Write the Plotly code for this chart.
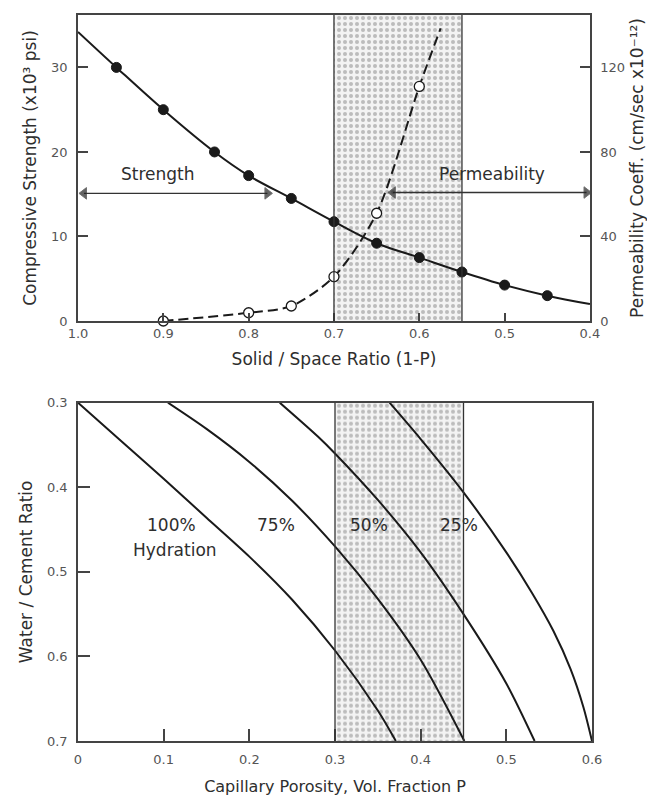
import plotly.graph_objects as go

# ---------------- Top panel data ----------------
strength_x = [0.955, 0.90, 0.84, 0.80, 0.75, 0.70, 0.65, 0.60, 0.55, 0.50, 0.45]
strength_y = [30.0, 25.0, 20.0, 17.2, 14.5, 11.75, 9.2, 7.5, 5.8, 4.25, 3.0]
strength_curve_x = [1.0, 0.955, 0.90, 0.84, 0.80, 0.75, 0.70, 0.65, 0.60, 0.55, 0.50, 0.45, 0.40]
strength_curve_y = [34.2, 30.0, 25.0, 20.0, 17.2, 14.5, 11.75, 9.2, 7.5, 5.8, 4.25, 3.0, 2.0]

perm_x = [0.90, 0.80, 0.75, 0.70, 0.65, 0.60]
perm_y = [0, 3.9, 7.1, 21, 51, 111]
perm_curve_x = [0.90, 0.80, 0.75, 0.70, 0.65, 0.60, 0.575]
perm_curve_y = [0, 3.9, 7.1, 21, 51, 111, 138.5]

top_x_ticks = [1.0, 0.9, 0.8, 0.7, 0.6, 0.5, 0.4]
top_x_ticktext = ["1.0", "0.9", "0.8", "0.7", "0.6", "0.5", "0.4"]
strength_ticks = [0, 10, 20, 30]
perm_ticks = [0, 40, 80, 120]
strength_range = [0, 36.2]
perm_range = [0, 144.8]
shade_top = [0.70, 0.55]

# arrows (solid/space ratio extents, strength-axis level)
strength_arrow_x = [0.993, 0.778]
strength_arrow_y = [15.1, 15.1]
perm_arrow_x = [0.631, 0.404]
perm_arrow_y = [15.2, 15.2]

# ---------------- Bottom panel data ----------------
p100 = [0.0, 0.05, 0.10, 0.15, 0.20, 0.25, 0.30, 0.35, 0.371]
w100 = [0.30, 0.345, 0.390, 0.436, 0.482, 0.533, 0.593, 0.664, 0.70]
p75 = [0.105, 0.15, 0.20, 0.25, 0.30, 0.35, 0.40, 0.451]
w75 = [0.30, 0.331, 0.370, 0.416, 0.470, 0.532, 0.604, 0.70]
p50 = [0.2355, 0.28, 0.30, 0.35, 0.40, 0.45, 0.50, 0.533]
w50 = [0.30, 0.340, 0.360, 0.415, 0.477, 0.550, 0.632, 0.70]
p25 = [0.3637, 0.40, 0.45, 0.50, 0.53, 0.555, 0.575, 0.59, 0.60]
w25 = [0.30, 0.343, 0.406, 0.477, 0.525, 0.570, 0.615, 0.660, 0.70]
hyd_labels = ["100%", "75%", "50%", "25%"]
hyd_label_x = [0.109, 0.2316, 0.340, 0.4453]
hyd_label_y = [0.445, 0.445, 0.445, 0.445]

bot_x_ticks = [0, 0.1, 0.2, 0.3, 0.4, 0.5, 0.6]
bot_x_ticktext = ["0", "0.1", "0.2", "0.3", "0.4", "0.5", "0.6"]
bot_y_ticks = [0.3, 0.4, 0.5, 0.6, 0.7]
bot_y_ticktext = ["0.3", "0.4", "0.5", "0.6", "0.7"]
shade_bottom = [0.30, 0.45]

FONT = "DejaVu Sans"
INK = "#1a1a1a"
TXT = "#2e2e2e"
TICKC = "#555555"

fig = go.Figure()

pattern = dict(shape=".", size=6, solidity=0.35, fgcolor="#bcbcbc", bgcolor="#f3f3f3", fillmode="replace")

# shaded band top
fig.add_trace(go.Scatter(
    x=[shade_top[0], shade_top[0], shade_top[1], shade_top[1]],
    y=[strength_range[0], strength_range[1], strength_range[1], strength_range[0]],
    fill="toself", fillpattern=pattern, line=dict(width=0), mode="lines",
    xaxis="x", yaxis="y", hoverinfo="skip", showlegend=False))

# strength curve and points
fig.add_trace(go.Scatter(x=strength_curve_x, y=strength_curve_y, mode="lines",
                         line=dict(color=INK, width=2, shape="spline", smoothing=1.0),
                         xaxis="x", yaxis="y", showlegend=False))
fig.add_trace(go.Scatter(x=strength_x, y=strength_y, mode="markers",
                         marker=dict(color=INK, size=10, line=dict(color=INK, width=1)),
                         xaxis="x", yaxis="y", showlegend=False))

# permeability curve and points (right axis)
fig.add_trace(go.Scatter(x=perm_curve_x, y=perm_curve_y, mode="lines",
                         line=dict(color=INK, width=2, dash="10px,5px", shape="spline", smoothing=0.8),
                         xaxis="x", yaxis="y2", showlegend=False))
fig.add_trace(go.Scatter(x=perm_x, y=perm_y, mode="markers",
                         marker=dict(color="white", size=10, line=dict(color=INK, width=1.3)),
                         xaxis="x", yaxis="y2", showlegend=False, cliponaxis=False))

# double-headed arrows
for ax_, ay_ in [(strength_arrow_x, strength_arrow_y), (perm_arrow_x, perm_arrow_y)]:
    fig.add_trace(go.Scatter(x=ax_, y=ay_, mode="lines+markers",
                             line=dict(color="#333333", width=1.3),
                             marker=dict(symbol=["triangle-left", "triangle-right"], size=[10, 10],
                                         color="#222222"),
                             xaxis="x", yaxis="y", showlegend=False, hoverinfo="skip"))

# shaded band bottom
fig.add_trace(go.Scatter(
    x=[shade_bottom[0], shade_bottom[0], shade_bottom[1], shade_bottom[1]],
    y=[0.3, 0.7, 0.7, 0.3],
    fill="toself", fillpattern=pattern, line=dict(width=0), mode="lines",
    xaxis="x3", yaxis="y3", hoverinfo="skip", showlegend=False))

for px_, wy_ in [(p100, w100), (p75, w75), (p50, w50), (p25, w25)]:
    fig.add_trace(go.Scatter(x=px_, y=wy_, mode="lines",
                             line=dict(color=INK, width=2, shape="spline", smoothing=0.8),
                             xaxis="x3", yaxis="y3", showlegend=False))

# vertical band edges
shapes = []
for xv in shade_top:
    shapes.append(dict(type="line", xref="x", yref="y domain", x0=xv, x1=xv, y0=0, y1=1,
                       line=dict(color="#333333", width=1.3)))
for xv in shade_bottom:
    shapes.append(dict(type="line", xref="x3", yref="y3 domain", x0=xv, x1=xv, y0=0, y1=1,
                       line=dict(color="#333333", width=1.3)))

ANN_FONT = dict(family=FONT, size=17, color=TXT)
annotations = []
annotations.append(dict(x=0.906, y=17.4, xref="x", yref="y", text="Strength", showarrow=False, font=ANN_FONT))
annotations.append(dict(x=0.515, y=17.4, xref="x", yref="y", text="Permeability", showarrow=False, font=ANN_FONT))

for lbl, lx, ly in zip(hyd_labels, hyd_label_x, hyd_label_y):
    annotations.append(dict(x=lx, y=ly, xref="x3", yref="y3", text=lbl, showarrow=False, font=ANN_FONT))
annotations.append(dict(x=0.113, y=0.474, xref="x3", yref="y3", text="Hydration",
                        showarrow=False, font=ANN_FONT))

axis_common = dict(showgrid=False, zeroline=False, showline=True, linecolor="#444444", linewidth=1.5,
                   ticks="inside", tickcolor="#444444", tickwidth=1.5, automargin=False,
                   tickfont=dict(family=FONT, size=13, color=TICKC))

fig.update_layout(
    width=647, height=798,
    margin=dict(l=78, r=55, t=15, b=57),
    paper_bgcolor="white", plot_bgcolor="white",
    showlegend=False,
    xaxis=dict(axis_common, domain=[0, 0.996], range=[1.0, 0.4], tickvals=top_x_ticks, ticktext=top_x_ticktext,
               ticklen=8, mirror=True, anchor="y",
               title=dict(text="Solid / Space Ratio (1-P)", standoff=13,
                          font=dict(family=FONT, size=17, color=TXT))),
    yaxis=dict(axis_common, domain=[0.5785, 1.0], range=strength_range, tickvals=strength_ticks, ticklen=10,
               mirror=True, anchor="x", ticklabelstandoff=6,
               title=dict(text="Compressive Strength (x10³ psi)", standoff=10,
                          font=dict(family=FONT, size=17, color=TXT))),
    yaxis2=dict(axis_common, overlaying="y", side="right", range=perm_range, tickvals=perm_ticks, ticklen=10,
                anchor="x", ticklabelstandoff=6,
                title=dict(text="Permeability Coeff. (cm/sec x10⁻¹²)", standoff=11,
                           font=dict(family=FONT, size=17, color=TXT))),
    xaxis3=dict(axis_common, domain=[0, 1.0], range=[0, 0.6], tickvals=bot_x_ticks, ticktext=bot_x_ticktext,
                ticklen=12, mirror=True, anchor="y3", ticklabelstandoff=6,
                title=dict(text="Capillary Porosity, Vol. Fraction P", standoff=14,
                           font=dict(family=FONT, size=16, color=TXT))),
    yaxis3=dict(axis_common, domain=[0, 0.466], range=[0.7, 0.3], tickvals=bot_y_ticks, ticktext=bot_y_ticktext,
                ticklen=12, mirror=True, anchor="x3", ticklabelstandoff=6,
                title=dict(text="Water / Cement Ratio", standoff=10,
                           font=dict(family=FONT, size=17, color=TXT))),
    shapes=shapes,
    annotations=annotations,
)

fig.write_html("out.html")
